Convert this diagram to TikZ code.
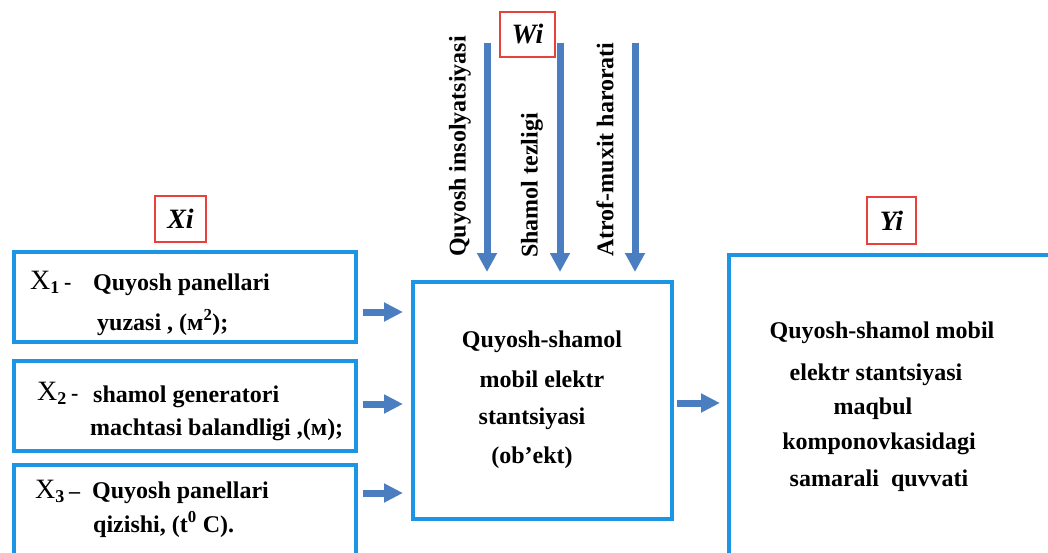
\documentclass[tikz,border=0pt]{standalone}
\usepackage{fontspec}
\setmainfont{Liberation Serif}
\usetikzlibrary{arrows.meta}
\definecolor{boxblue}{RGB}{28,150,228}
\definecolor{arrblue}{RGB}{74,126,192}
\definecolor{labred}{RGB}{232,65,60}
\tikzset{
  blk/.style={draw=boxblue, line width=4pt, rectangle, inner sep=0pt},
  lab/.style={draw=labred, line width=1.3pt, rectangle, inner sep=0pt,
    font=\bfseries\itshape\fontsize{28}{30}\selectfont},
  txt/.style={inner sep=0pt, font=\bfseries\fontsize{24}{26}\selectfont},
  xsym/.style={inner sep=0pt, font=\fontsize{28}{30}\selectfont},
  arr/.style={draw=arrblue, line width=7pt, -{Triangle[width=19pt,length=19pt]}},
  harr/.style={draw=arrblue, line width=7pt, -{Triangle[width=18pt,length=19pt]}}
}
\begin{document}
\begin{tikzpicture}[x=1pt,y=-1pt]
\useasboundingbox (0,0) rectangle (1048,553);
\clip (0,0) rectangle (1048,553);
\fill[white] (0,0) rectangle (1048,553);
% blocks
\node[blk, minimum width=342pt, minimum height=90pt] (b1) at (185,297) {};
\node[blk, minimum width=342pt, minimum height=90pt] (b2) at (185,406) {};
\node[blk, minimum width=342pt, minimum height=100pt] (b3) at (185,515) {};
\node[blk, minimum width=259pt, minimum height=237pt] (c) at (542.5,400.5) {};
\node[blk, minimum width=331pt, minimum height=320pt] (r) at (894.5,415) {};
% labels
\node[lab, minimum width=51pt, minimum height=46pt] (xi) at (180.5,219) {Xi};
\node[lab, minimum width=55pt, minimum height=45pt] (wi) at (527.5,34.5) {Wi};
\node[lab, minimum width=49pt, minimum height=47pt] (yi) at (891.5,220.5) {Yi};
% X1
\node[xsym, anchor=base west] (x1s) at (30,289) {X\raisebox{-4pt}{\bfseries\fontsize{18}{20}\selectfont 1}\,\bfseries\fontsize{22}{24}\selectfont -};
\node[txt, anchor=base west] (x1a) at (93,290) {Quyosh panellari};
\node[txt, anchor=base west] (x1b) at (97,330) {yuzasi , (м$^{\mathbf 2}$);};
% X2
\node[xsym, anchor=base west] (x2s) at (37,400) {X\raisebox{-4pt}{\bfseries\fontsize{18}{20}\selectfont 2}\,\bfseries\fontsize{22}{24}\selectfont -};
\node[txt, anchor=base west] (x2a) at (93,402) {shamol generatori};
\node[txt, anchor=base west] (x2b) at (90,435) {machtasi balandligi ,(м);};
% X3
\node[xsym, anchor=base west] (x3s) at (35,498) {X\raisebox{-4pt}{\bfseries\fontsize{18}{20}\selectfont 3}\,\bfseries\fontsize{22}{24}\selectfont –};
\node[txt, anchor=base west] (x3a) at (92,498) {Quyosh panellari};
\node[txt, anchor=base west] (x3b) at (93,532) {qizishi, (t$^{\mathbf 0}$ C).};
% centre text
\node[txt, anchor=base] (c1) at (542,347) {Quyosh-shamol};
\node[txt, anchor=base] (c2) at (542,387) {mobil elektr};
\node[txt, anchor=base] (c3) at (532,424) {stantsiyasi};
\node[txt, anchor=base] (c4) at (532,463) {(ob’ekt)};
% right text
\node[txt, anchor=base] (r1) at (882,338) {Quyosh-shamol mobil};
\node[txt, anchor=base] (r2) at (876,380) {elektr stantsiyasi};
\node[txt, anchor=base] (r3) at (873,414) {maqbul};
\node[txt, anchor=base] (r4) at (879,449) {komponovkasidagi};
\node[txt, anchor=base] (r5) at (879,486) {samarali\ \ quvvati};
% vertical labels
\node[txt, rotate=90, anchor=west] (w1t) at (460,257) {Quyosh insolyatsiyasi};
\node[txt, rotate=90, anchor=west] (w2t) at (532,258) {Shamol tezligi};
\node[txt, rotate=90, anchor=west] (w3t) at (605,257) {Atrof-muxit harorati};
% arrow starts
\coordinate (s1) at (487,43);
\coordinate (s2) at (560,43);
\coordinate (s3) at (635,43);
\coordinate (h1) at (363,312);
\coordinate (h2) at (363,404);
\coordinate (h3) at (363,493);
\coordinate (o1) at (677,403);
% arrows
\draw[arr] (s1) -- ([yshift=8pt]s1 |- c.north);
\draw[arr] (s2) -- ([yshift=8pt]s2 |- c.north);
\draw[arr] (s3) -- ([yshift=8pt]s3 |- c.north);
\draw[harr] (h1) -- ([xshift=-8pt]h1 -| c.west);
\draw[harr] (h2) -- ([xshift=-8pt]h2 -| c.west);
\draw[harr] (h3) -- ([xshift=-8pt]h3 -| c.west);
\draw[harr] (o1) -- ([xshift=-7pt]o1 -| r.west);
\end{tikzpicture}
\end{document}
